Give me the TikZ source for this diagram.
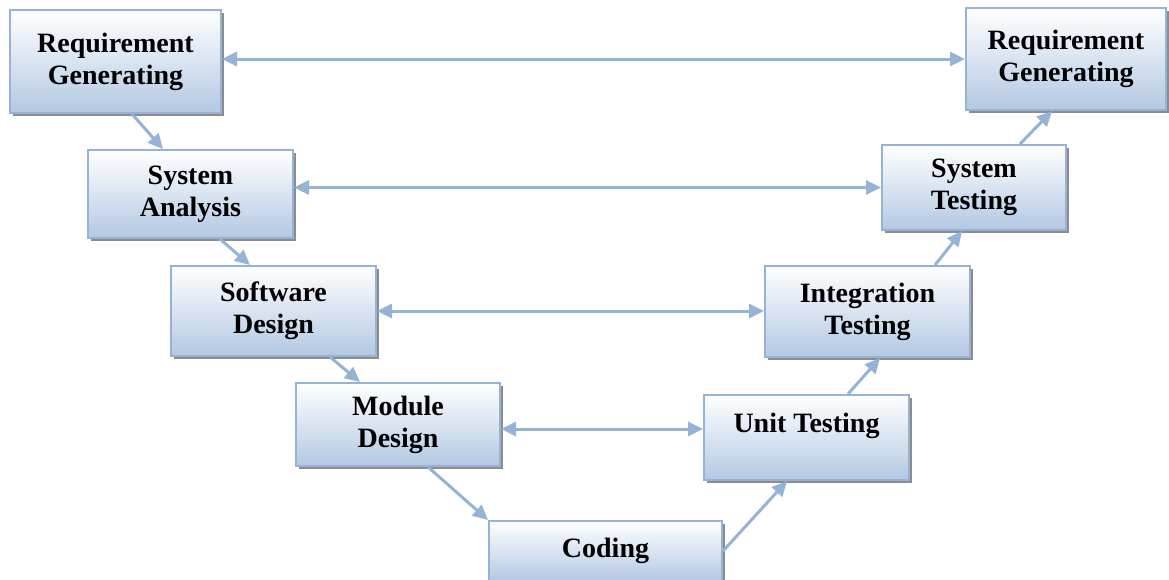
\documentclass[tikz,border=0pt]{standalone}
\usepackage{fontspec}
\setmainfont{Liberation Serif}
\usepackage{tikz}
\usetikzlibrary{arrows.meta, shadows, positioning}
\definecolor{boxblue}{HTML}{B3C8E3}
\definecolor{lineblue}{HTML}{95B3D7}
\tikzset{>={Triangle[length=15pt,width=14pt]}}

\begin{document}
\begin{tikzpicture}[x=1pt, y=-1pt,
	stage/.style={rectangle, draw=lineblue, line width=2pt, top color=white, bottom color=boxblue,
		align=center, font=\fontsize{28}{32}\selectfont\bfseries,
		drop shadow={shadow xshift=3pt, shadow yshift=-3pt, fill=black!45, opacity=1}},
	flow/.style={->, draw=lineblue, line width=3pt},
	link/.style={<->, draw=lineblue, line width=3pt}]

		\useasboundingbox (0,0) rectangle (1169,579);

		% left side
		\node [stage, minimum width=211, minimum height=103] (reqL) at (115.5,61.5) {Requirement\\Generating};
		\node [stage, minimum width=205, minimum height=88] (sysA) at (190.5,194) {System\\Analysis};
		\node [stage, minimum width=205, minimum height=90] (swD) at (273.5,311) {Software\\Design};
		\node [stage, minimum width=204, minimum height=83] (modD) at (398,424.5) {Module\\Design};

		% bottom
		\node [stage, minimum width=233, minimum height=60] (coding) at (605.5,551) {Coding};

		% right side
		\node [stage, minimum width=205, minimum height=85, text height=20pt, text depth=31pt, inner ysep=17pt] (unitT) at (806.5,437.5) {Unit Testing};
		\node [stage, minimum width=205, minimum height=91] (integT) at (867.5,311.5) {Integration\\Testing};
		\node [stage, minimum width=184, minimum height=85] (sysT) at (974,187.5) {System\\Testing};
		\node [stage, minimum width=200, minimum height=102] (reqR) at (1066,59) {Requirement\\Generating};

		% down the V
		\draw[flow] ([xshift=16.5pt]reqL.south) -- ([xshift=-27.5pt]sysA.north);
		\draw[flow] ([xshift=29.5pt]sysA.south) -- ([xshift=-23.5pt]swD.north);
		\draw[flow] ([xshift=56.5pt]swD.south) -- ([xshift=-38pt]modD.north);
		\draw[flow] ([xshift=30pt]modD.south) -- ([xshift=-117.5pt]coding.north);

		% up the V
		\draw[flow] (coding.east) -- ([xshift=-19.5pt]unitT.south);
		\draw[flow] ([xshift=41.5pt]unitT.north) -- ([xshift=12.5pt]integT.south);
		\draw[flow] ([xshift=67.5pt]integT.north) -- ([xshift=-12pt]sysT.south);
		\draw[flow] ([xshift=46pt]sysT.north) -- ([xshift=-14pt]reqR.south);

		% across
		\draw[link] (reqL.east |- reqR.west) -- (reqR.west);
		\draw[link] (sysA.east |- sysT.west) -- (sysT.west);
		\draw[link] (swD.east) -- (swD.east -| integT.west);
		\draw[link] ([yshift=-4.5pt]modD.east) -- ([yshift=-4.5pt]modD.east -| unitT.west);
\end{tikzpicture}
\end{document}
